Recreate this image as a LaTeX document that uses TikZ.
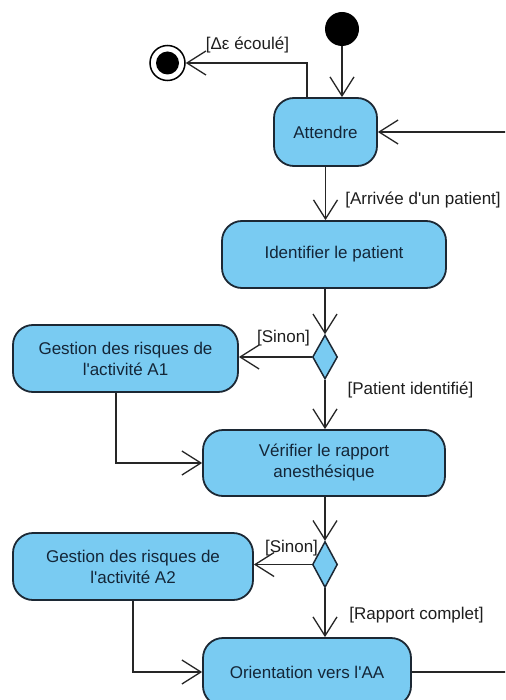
\documentclass[tikz,border=0pt]{standalone}
\usepackage{fontspec}
\setmainfont{Liberation Sans}[Ligatures=TeXOff]
\usetikzlibrary{shapes.geometric,arrows.meta,calc}
\definecolor{actfill}{RGB}{121,203,242}
\definecolor{actline}{RGB}{28,40,52}
\definecolor{acttext}{RGB}{20,38,56}
\definecolor{lbltext}{RGB}{30,30,30}
\tikzset{
  activity/.style={rectangle, rounded corners=20pt, draw=actline, line width=1.8pt, fill=actfill,
    text=acttext, align=center, inner sep=0pt, font=\fontsize{17pt}{21pt}\selectfont},
  decision/.style={diamond, draw=actline, line width=1.5pt, fill=actfill, inner sep=0pt},
  startstate/.style={circle, fill=black, minimum size=34pt, inner sep=0pt},
  endstate/.style={circle, draw=black, line width=1.5pt, fill=white, minimum size=35pt, inner sep=0pt,
    path picture={\fill[black] (path picture bounding box.center) circle (11.5pt);}},
  guard/.style={text=lbltext, inner sep=0pt, font=\fontsize{17pt}{21pt}\selectfont},
  flow/.style={draw=black!85, line width=1.3pt, -{Straight Barb[length=19pt,width=24pt,line width=1.3pt]}},
  plainflow/.style={draw=black!85, line width=1.3pt}
}
\begin{document}
\begin{tikzpicture}[x=1pt,y=-1pt]
\useasboundingbox (0,0) rectangle (505,700);
\clip (0,0) rectangle (505,700);
\fill[white] (0,0) rectangle (505,700);

% nodes
\node[startstate] (start) at (342,29) {};
\node[endstate] (fin) at (167.5,63) {};
\node[activity, minimum width=103pt, minimum height=68pt] (att) at (325.5,132) {Attendre};
\node[activity, minimum width=224pt, minimum height=67pt] (idf) at (334,254.5) {Identifier le patient};
\node[decision, minimum width=25pt, minimum height=44pt] (d1) at (325,357) {};
\node[activity, minimum width=225pt, minimum height=67pt] (a1) at (125.5,358.5) {Gestion des risques de\\l'activité A1};
\node[activity, minimum width=242pt, minimum height=66pt] (ver) at (324,463) {Vérifier le rapport\\anesthésique};
\node[decision, minimum width=25pt, minimum height=46pt] (d2) at (325,564.5) {};
\node[activity, minimum width=240pt, minimum height=67pt] (a2) at (133,566.5) {Gestion des risques de\\l'activité A2};
\node[activity, minimum width=208pt, minimum height=68pt] (ori) at (307,672) {Orientation vers l'AA};

% guards
\node[guard] (gEcoule) at (247.5,45) {[Δε écoulé]};
\node[guard] (gArrivee) at (423,200) {[Arrivée d'un patient]};
\node[guard] (gSinon1) at (283.5,338) {[Sinon]};
\node[guard] (gPatient) at (410.5,390) {[Patient identifié]};
\node[guard] (gSinon2) at (291.5,548) {[Sinon]};
\node[guard] (gRapport) at (416.5,615) {[Rapport complet]};

% off-picture loop corners
\coordinate (loopB) at (540,672);
\coordinate (loopT) at (540,132);

% connectors
\draw[flow] (start.south) -- (start.south |- att.north);
\draw[flow] ([xshift=-18.5pt]att.north) |- (fin.east);
\draw[flow] (att.south) -- (att.south |- idf.north);
\draw[flow] (d1.north |- idf.south) -- (d1.north);
\draw[flow] (d1.west) -- (d1.west -| a1.east);
\draw[flow] (d1.south) -- (d1.south |- ver.north);
\draw[flow] ([xshift=-9.5pt]a1.south) |- (ver.west);
\draw[flow] (d2.north |- ver.south) -- (d2.north);
\draw[flow] (d2.west) -- (d2.west -| a2.east);
\draw[flow] (d2.south) -- (d2.south |- ori.north);
\draw[flow] (a2.south) |- (ori.west);
\draw[flow] (ori.east) -- (loopB) -- (loopT) -- (att.east);
\end{tikzpicture}
\end{document}
